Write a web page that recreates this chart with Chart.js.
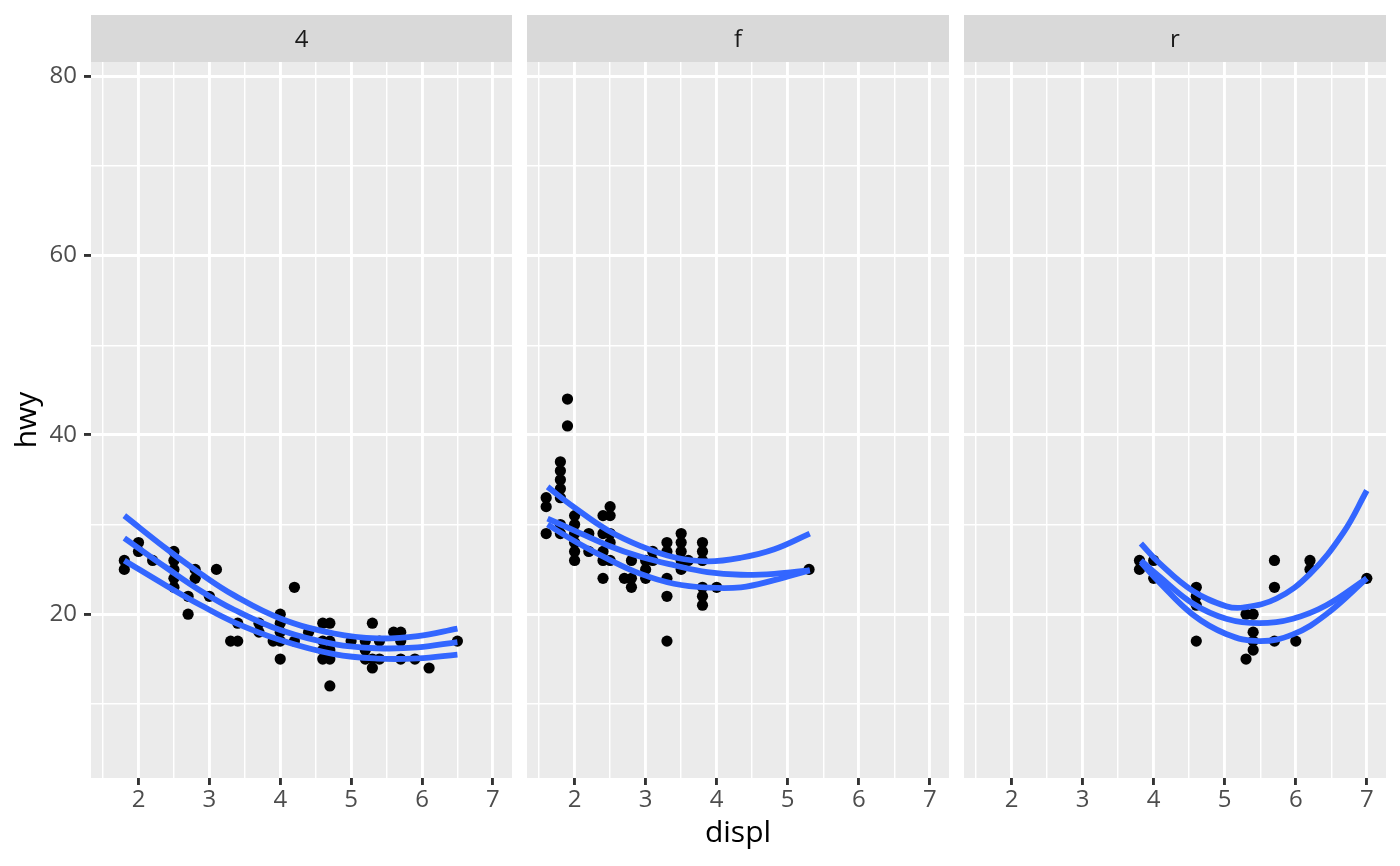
<!DOCTYPE html>
<html><head><meta charset="utf-8">
<script src="https://cdn.jsdelivr.net/npm/chart.js@4.4.1/dist/chart.umd.min.js"></script>
<style>
html,body{margin:0;padding:0;background:#fff;}
#wrap{position:relative;width:1400px;height:866px;overflow:hidden;}
canvas{position:absolute;top:0;}
</style></head><body>
<div id="wrap">
<canvas id="c1" width="512" height="866" style="left:0px"></canvas>
<canvas id="c2" width="422" height="866" style="left:527px"></canvas>
<canvas id="c3" width="422" height="866" style="left:964px"></canvas>
</div>
<script>
// ---- data ----
const facets = ['4', 'f', 'r'];
const xMajor = [2, 3, 4, 5, 6, 7];
const xMinor = [1.5, 2.5, 3.5, 4.5, 5.5, 6.5];
const yMajor = [20, 40, 60, 80];
const yMinor = [10, 30, 50, 70];

const displ4 = [1.8,1.8,2.0,2.0,2.2,2.5,2.5,2.5,2.5,2.5,2.7,2.7,2.8,2.8,3.0,3.1,3.3,3.4,3.4,3.7,3.7,3.9,4.0,4.0,4.0,4.0,4.0,4.2,4.2,4.4,4.6,4.6,4.6,4.6,4.7,4.7,4.7,4.7,4.7,5.0,5.2,5.2,5.2,5.3,5.3,5.3,5.4,5.4,5.6,5.7,5.7,5.7,5.9,6.1,6.5];
const hwy4   = [26, 25, 28, 27, 26, 27, 26, 25, 24, 23, 22, 20, 25, 24, 22, 25, 17, 19, 17, 19, 18, 17, 20, 19, 18, 17, 15, 23, 17, 18, 19, 17, 16, 15, 19, 17, 16, 15, 12, 17, 17, 16, 15, 19, 15, 14, 17, 15, 18, 18, 17, 15, 15, 14, 17];

const displF = [1.6,1.6,1.6,1.8,1.8,1.8,1.8,1.8,1.8,1.8,1.9,1.9,2.0,2.0,2.0,2.0,2.0,2.0,2.2,2.2,2.4,2.4,2.4,2.4,2.4,2.5,2.5,2.5,2.5,2.5,2.7,2.8,2.8,2.8,3.0,3.0,3.0,3.1,3.1,3.3,3.3,3.3,3.3,3.3,3.5,3.5,3.5,3.5,3.5,3.6,3.8,3.8,3.8,3.8,3.8,3.8,4.0,5.3];
const hwyF   = [33, 32, 29, 37, 36, 35, 34, 33, 30, 29, 44, 41, 31, 30, 29, 28, 27, 26, 29, 27, 31, 29, 27, 26, 24, 32, 31, 29, 28, 26, 24, 26, 24, 23, 26, 25, 24, 27, 26, 28, 27, 24, 22, 17, 29, 28, 27, 26, 25, 26, 28, 27, 26, 23, 22, 21, 23, 25];

const displR = [3.8,3.8,4.0,4.0,4.6,4.6,4.6,4.6,5.3,5.3,5.4,5.4,5.4,5.4,5.7,5.7,5.7,6.0,6.2,6.2,7.0];
const hwyR   = [26, 25, 26, 24, 23, 22, 21, 17, 20, 15, 20, 18, 17, 16, 26, 23, 17, 17, 26, 25, 24];

// quantile curves (upper, median, lower)
const q4x   = [1.8, 2.41, 2.88, 3.35, 4.01, 4.76, 5.37, 5.94, 6.5];
const q4hi  = [31.0, 27.2, 24.5, 22.1, 19.5, 17.85, 17.3, 17.55, 18.4];
const q4mid = [28.5, 25.1, 22.6, 20.5, 18.2, 16.66, 16.2, 16.3, 16.9];
const q4lo  = [26.0, 23.1, 21.0, 19.1, 17.1, 15.55, 15.05, 15.07, 15.5];

const qFx   = [1.62, 1.99, 2.46, 2.93, 3.40, 3.87, 4.34, 4.81, 5.31];
const qFhi  = [34.2, 31.95, 29.4, 27.6, 26.35, 25.9, 26.3, 27.25, 29.0];
const qFmid = [30.66, 29.36, 27.7, 26.4, 25.46, 24.7, 24.4, 24.5, 24.9];
const qFlo  = [30.0, 28.2, 26.2, 24.5, 23.4, 22.97, 23.0, 23.8, 24.9];

const qRxHi = [3.82, 4.08, 4.55, 5.02, 5.26, 5.73, 6.20, 6.67, 7.0];
const qRhi  = [27.9, 25.7, 22.6, 20.9, 20.75, 21.75, 24.5, 29.1, 33.8];
const qRx   = [3.82, 4.08, 4.55, 5.02, 5.49, 5.96, 6.43, 7.0];
const qRmid = [26.0, 24.2, 21.2, 19.5, 19.0, 19.5, 21.0, 24.0];
const qRlo  = [25.8, 23.55, 19.95, 17.8, 17.0, 17.75, 20.0, 24.0];

const xRange = [1.33, 7.27];
const yRange = [1.73, 81.6];

// ---- styling ----
Chart.defaults.font.family = "'Open Sans', 'Noto Sans', sans-serif";
const BLUE = '#3366FF';
const MAJOR_W = 2.9, MINOR_W = 1.45;

const pts = (xs, ys) => xs.map((x, i) => ({x: x, y: ys[i]}));
const isIn = (arr, v) => arr.some(a => Math.abs(a - v) < 1e-9);

const panelPlugin = {
  id: 'panelBg',
  beforeDraw(chart) {
    const a = chart.chartArea, ctx = chart.ctx;
    ctx.save();
    ctx.fillStyle = '#EBEBEB';
    ctx.fillRect(a.left, a.top, a.right - a.left, a.bottom - a.top);
    ctx.fillStyle = '#D9D9D9';
    ctx.fillRect(a.left, 15, a.right - a.left, a.top - 15);
    ctx.restore();
  }
};

function lineDs(xs, ys) {
  return {type: 'line', data: pts(xs, ys), showLine: true, borderColor: BLUE, borderWidth: 5.8,
          pointRadius: 0, fill: false, tension: 0.4, order: 1, borderCapStyle: 'butt'};
}

function makeChart(id, idx, px, py, curves, first, middle) {
  const datasets = curves.map(c => lineDs(c[0], c[1]));
  datasets.push({type: 'scatter', data: pts(px, py), pointRadius: 5.6, pointBackgroundColor: '#000',
                 pointBorderWidth: 0, order: 2});
  return new Chart(document.getElementById(id), {
    type: 'scatter',
    data: {datasets: datasets},
    plugins: [panelPlugin],
    options: {
      responsive: false, animation: false, devicePixelRatio: 1,
      layout: {padding: 0, autoPadding: false},
      events: [],
      plugins: {
        legend: {display: false}, tooltip: {enabled: false},
        title: {display: true, text: facets[idx], fullSize: false, color: '#1A1A1A',
                font: {size: 24, weight: 'normal'}, padding: {top: 26, bottom: 7.2}}
      },
      scales: {
        x: {
          type: 'linear', position: 'bottom', min: xRange[0], max: xRange[1],
          afterBuildTicks: s => { s.ticks = xMinor.concat(xMajor).sort((a, b) => a - b).map(v => ({value: v})); },
          afterFit: s => { s.height = 88; },
          border: {display: false},
          grid: {
            color: '#FFFFFF',
            lineWidth: c => (c.tick && isIn(xMajor, c.tick.value)) ? MAJOR_W : MINOR_W,
            drawTicks: true, tickLength: 7, tickWidth: MAJOR_W,
            tickColor: c => (c.tick && isIn(xMajor, c.tick.value)) ? '#333333' : 'rgba(0,0,0,0)'
          },
          ticks: {
            autoSkip: false, maxRotation: 0, padding: 1, color: '#4D4D4D', font: {size: 24},
            callback: v => isIn(xMajor, v) ? String(v) : ''
          },
          title: {display: middle, text: 'displ', color: '#000000', font: {size: 30}, padding: {top: 0, bottom: 15}}
        },
        y: {
          type: 'linear', position: 'left', min: yRange[0], max: yRange[1],
          afterBuildTicks: s => { s.ticks = yMinor.concat(yMajor).sort((a, b) => a - b).map(v => ({value: v})); },
          afterFit: s => { s.width = first ? 91 : 0; },
          border: {display: false},
          grid: {
            color: '#FFFFFF',
            lineWidth: c => (c.tick && isIn(yMajor, c.tick.value)) ? MAJOR_W : MINOR_W,
            drawTicks: first, tickLength: 7, tickWidth: MAJOR_W,
            tickColor: c => (c.tick && isIn(yMajor, c.tick.value)) ? '#333333' : 'rgba(0,0,0,0)'
          },
          ticks: {
            display: first, autoSkip: false, padding: 7, color: '#4D4D4D', font: {size: 24},
            callback: v => isIn(yMajor, v) ? String(v) : ''
          },
          title: {display: first, text: 'hwy', color: '#000000', font: {size: 30}, padding: {top: 9, bottom: 0}}
        }
      }
    }
  });
}

makeChart('c1', 0, displ4, hwy4, [[q4x, q4hi], [q4x, q4mid], [q4x, q4lo]], true, false);
makeChart('c2', 1, displF, hwyF, [[qFx, qFhi], [qFx, qFmid], [qFx, qFlo]], false, true);
makeChart('c3', 2, displR, hwyR, [[qRxHi, qRhi], [qRx, qRmid], [qRx, qRlo]], false, false);
</script>
</body></html>
